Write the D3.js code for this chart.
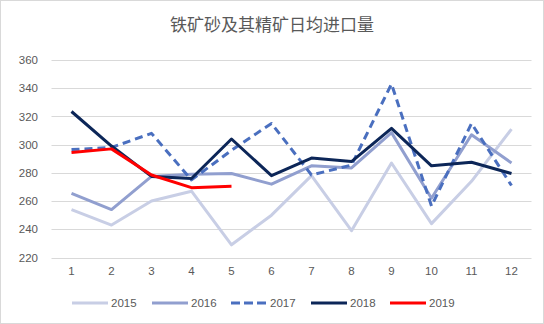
<!DOCTYPE html>
<html><head><meta charset="utf-8">
<script src="https://cdn.jsdelivr.net/npm/d3@7"></script>
<style>body{margin:0;background:#fff}svg{display:block}</style>
</head><body>
<script>
const months = ["1","2","3","4","5","6","7","8","9","10","11","12"];
const yTicks = [220,240,260,280,300,320,340,360];
const seriesNames = ["2015","2016","2017","2018","2019"];
const v2015 = [254,243,260,267,229,250,278,239,287,244,274,311];
const v2016 = [265.5,254,277.5,279,279.5,272,285,283.5,308.5,262,307,287];
const v2017 = [296.5,298,308,275,296,315,278.5,285.5,343,256.5,315,271];
const v2018 = [323.5,299,277.5,276,304,278,290.5,288,311.5,285,287.5,279.5];
const v2019 = [294.5,297,278.5,269.5,270.5];
const colors = ["#c8cee5","#919fcf","#4a6fbf","#0c2658","#ff0000"];
const dashes = [null,null,"8,5",null,null];
const values = [v2015,v2016,v2017,v2018,v2019];

const W=544,H=324;
const svg=d3.select("body").append("svg").attr("width",W).attr("height",H);
svg.append("rect").attr("x",0.5).attr("y",0.5).attr("width",W-1).attr("height",H-1)
  .attr("fill","#fff").attr("stroke","#d9d9d9");
svg.append("text").attr("x",272).attr("y",31).attr("text-anchor","middle")
  .attr("font-family","'Noto Sans CJK SC',sans-serif").attr("font-size",17)
  .attr("fill","#595959").text("铁矿砂及其精矿日均进口量");

const x=d3.scaleBand().domain(months).range([51.5,531.5]);
const y=d3.scaleLinear().domain([220,360]).range([257.5,60]);
const font="'Liberation Sans',Arial,sans-serif";

const grid=svg.append("g");
yTicks.forEach(t=>{
  grid.append("line").attr("x1",51.5).attr("x2",531.5).attr("y1",Math.round(y(t))+0.5).attr("y2",Math.round(y(t))+0.5)
   .attr("stroke","#d9d9d9").attr("stroke-width",1);
});
const ya=svg.append("g").attr("transform","translate(38,0)")
  .call(d3.axisLeft(y).tickValues(yTicks).tickSize(0).tickPadding(0));
ya.select(".domain").remove();
ya.selectAll("text").attr("font-family",font).attr("font-size",11.5).attr("fill","#595959");
const xa=svg.append("g").attr("transform","translate(0,264)")
  .call(d3.axisBottom(x).tickSize(0).tickPadding(3));
xa.select(".domain").remove();
xa.selectAll("text").attr("font-family",font).attr("font-size",11.5).attr("fill","#595959");

const line=d3.line().x((d,i)=>x(months[i])+x.bandwidth()/2).y(d=>y(d));
values.forEach((vals,k)=>{
  svg.append("path").datum(vals).attr("d",line).attr("fill","none")
    .attr("stroke",colors[k]).attr("stroke-width",3)
    .attr("stroke-linejoin","round").attr("stroke-dasharray",dashes[k]);
});

const legX=[72,152,231,311,390];
seriesNames.forEach((n,k)=>{
  const g=svg.append("g").attr("transform",`translate(${legX[k]},303)`);
  g.append("line").attr("x1",0).attr("x2",36).attr("y1",0).attr("y2",0)
    .attr("stroke",colors[k]).attr("stroke-width",3).attr("stroke-dasharray",dashes[k]?"9,4":null);
  g.append("text").attr("x",39).attr("y",4).attr("font-family",font).attr("font-size",11.5)
    .attr("fill","#595959").text(n);
});
</script>
</body></html>
